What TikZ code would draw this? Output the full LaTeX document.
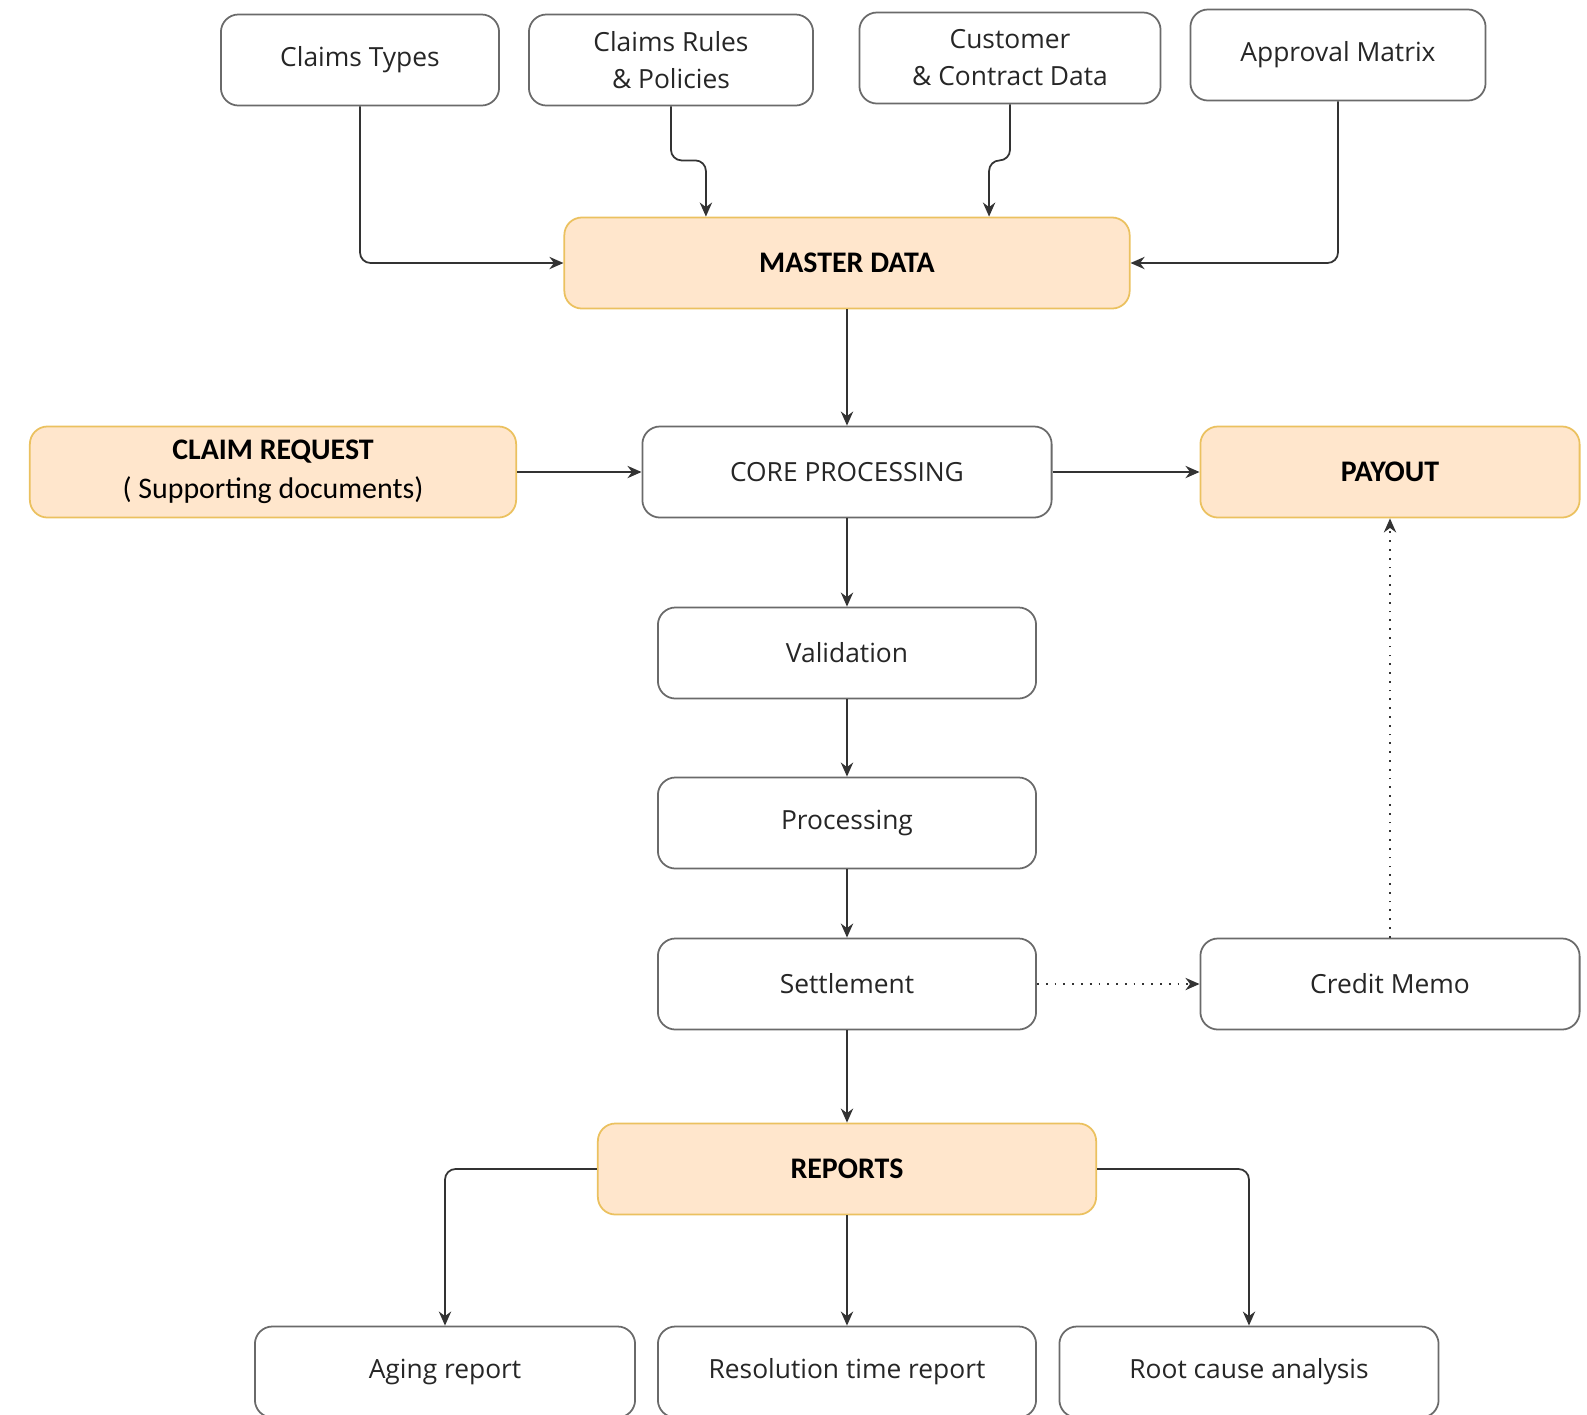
\documentclass[tikz,border=0pt]{standalone}
\usepackage{fontspec}
\setmainfont{Open Sans}
\newfontfamily\headfont{Carlito}
\usetikzlibrary{arrows.meta,positioning}
\definecolor{peach}{HTML}{FFE6CC}
\definecolor{gold}{HTML}{EBC15F}
\definecolor{boxline}{HTML}{6A6A6A}
\tikzset{
  box/.style={draw=boxline, rounded corners=5pt, align=center, minimum height=0.91cm,
    font=\fontsize{7.5}{10.5}\selectfont, text=black!85, line width=0.5pt},
  keybox/.style={box, draw=gold, fill=peach, text=black, font=\headfont\bfseries\fontsize{8.5}{11}\selectfont},
  link/.style={->, draw=black!80, line width=0.5pt, rounded corners=3pt},
  >={Stealth[length=4pt,width=3.5pt]}
}

\begin{document}
\begin{tikzpicture}[x=0.01cm, y=-0.01cm]
        \clip (0,0) rectangle (1587,1414);

        % sources of master data
        \node[box, minimum width=2.78cm] (types) at (360,60) {Claims Types};
        \node[box, minimum width=2.84cm] (rules) at (671,60) {Claims Rules\\\& Policies};
        \node[box, minimum width=3.01cm] (customer) at (1010,58) {Customer\\\& Contract Data};
        \node[box, minimum width=2.95cm] (approval) at (1338,55) {Approval Matrix};
        \node[keybox, minimum width=5.65cm] (master) at (847,263) {MASTER DATA};

        % main flow
        \node[keybox, minimum width=4.86cm] (request) at (273,472) {CLAIM REQUEST\\{\mdseries( Supporting documents)}};
        \node[box, minimum width=4.09cm] (core) at (847,472) {CORE PROCESSING};
        \node[keybox, minimum width=3.79cm] (payout) at (1390,472) {PAYOUT};
        \node[box, minimum width=3.78cm] (valid) at (847,653) {Validation};
        \node[box, minimum width=3.78cm] (proc) at (847,823) {Processing};
        \node[box, minimum width=3.78cm] (settle) at (847,984) {Settlement};
        \node[box, minimum width=3.79cm] (memo) at (1390,984) {Credit Memo};

        % reports
        \node[keybox, minimum width=4.98cm] (reports) at (847,1169) {REPORTS};
        \node[box, minimum width=3.80cm] (aging) at (445,1372) {Aging report};
        \node[box, minimum width=3.78cm] (resol) at (847,1372) {Resolution time report};
        \node[box, minimum width=3.79cm] (root) at (1249,1372) {Root cause analysis};

        \draw[link] (types.south) |- (master.west);
        \draw[link] (rules.south) -- ++(0,54) -| ([xshift=-1.41cm]master.north);
        \draw[link] (customer.south) -- ++(0,56) -| ([xshift=1.42cm]master.north);
        \draw[link] (approval.south) |- (master.east);
        \draw[link] (master) -- (core);

        \draw[link] (request) -- (core);
        \draw[link] (core) -- (payout);
        \draw[link] (core) -- (valid);
        \draw[link] (valid) -- (proc);
        \draw[link] (proc) -- (settle);
        \draw[link] (settle) -- (reports);
        \draw[link, dotted] (settle) -- (memo);
        \draw[link, dotted] (memo) -- (payout);

        \draw[link] (reports.west) -| (aging.north);
        \draw[link] (reports) -- (resol);
        \draw[link] (reports.east) -| (root.north);
    \end{tikzpicture}
\end{document}
